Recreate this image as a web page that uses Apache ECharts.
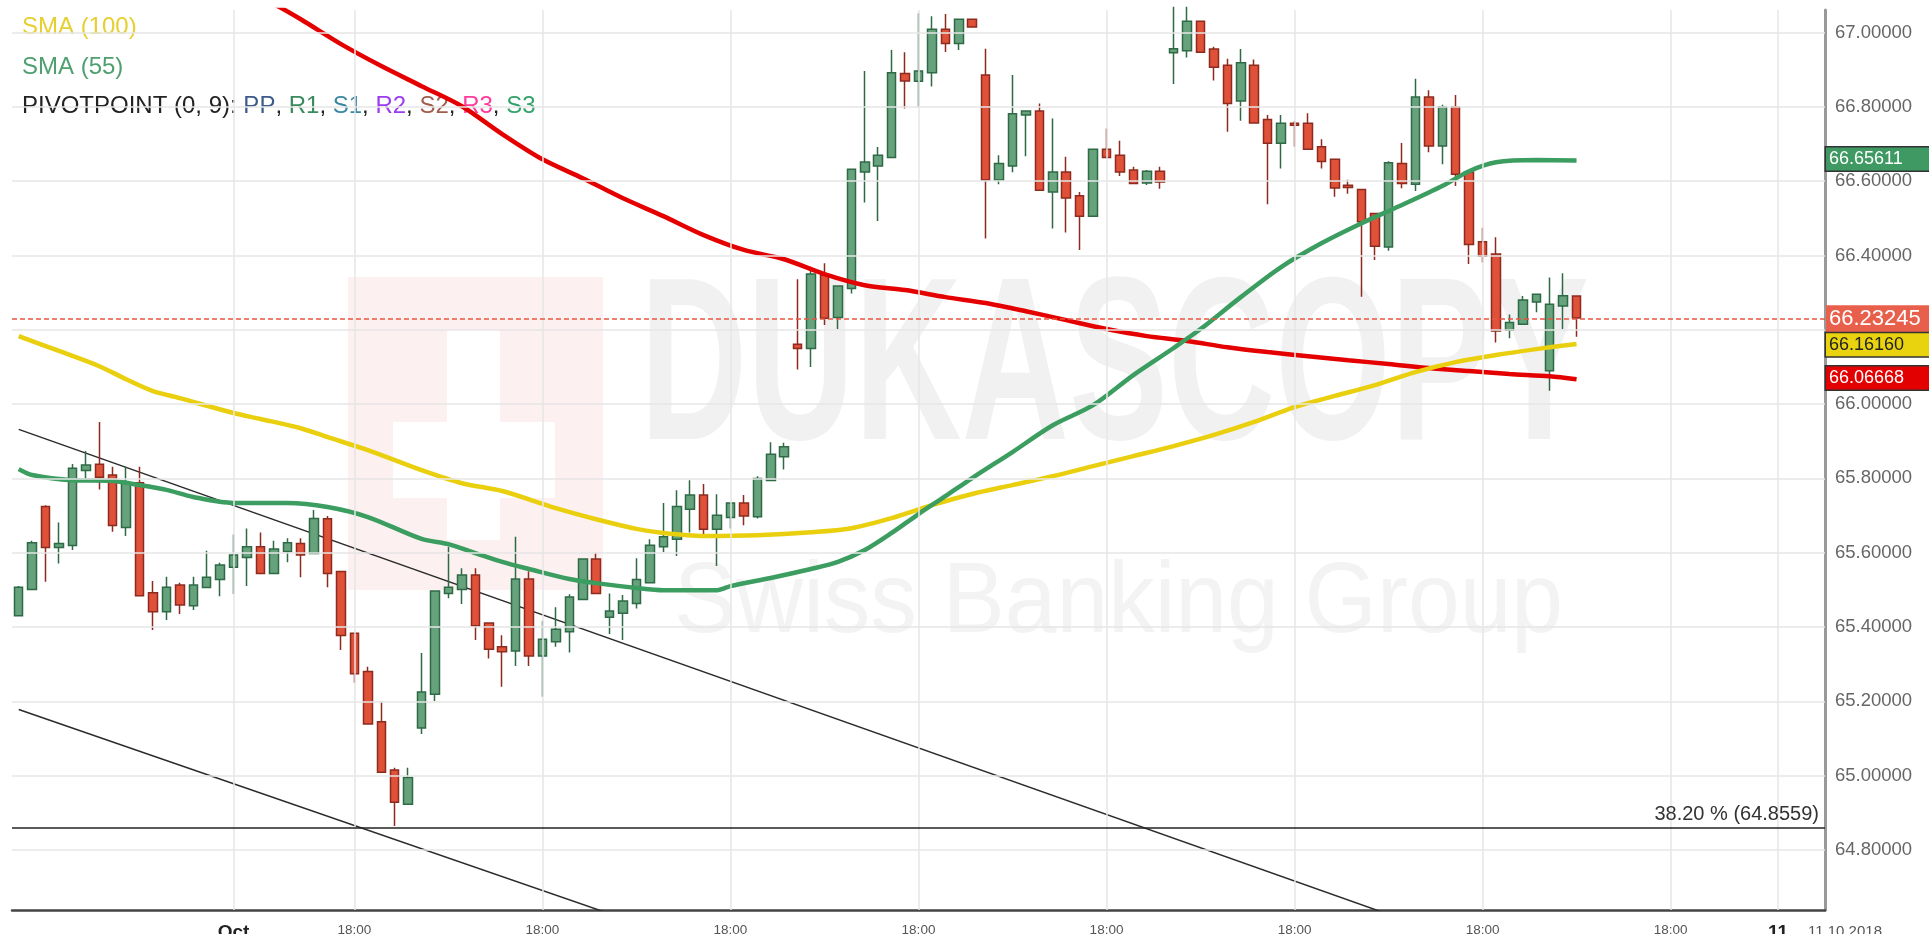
<!DOCTYPE html>
<html>
<head>
<meta charset="UTF-8">
<title>USD/RUB 1H</title>
<script src="https://cdn.jsdelivr.net/npm/echarts@6/dist/echarts.min.js"></script>
<style>
html, body { margin: 0; padding: 0; background: #fff; }
#chart { width: 1929px; height: 934px; }
</style>
</head>
<body>
<div id="chart"></div>
<script>
// hourly candles: [open, close, low, high]
var candles = [
    [65.430, 65.507, 65.430, 65.510], [65.501, 65.627, 65.500, 65.632], [65.724, 65.614, 65.522, 65.728],
    [65.614, 65.625, 65.571, 65.681], [65.619, 65.827, 65.607, 65.839], [65.821, 65.836, 65.796, 65.874],
    [65.838, 65.803, 65.770, 65.952], [65.809, 65.673, 65.656, 65.831], [65.668, 65.788, 65.645, 65.831],
    [65.788, 65.484, 65.484, 65.831], [65.492, 65.441, 65.392, 65.524], [65.441, 65.507, 65.419, 65.535],
    [65.513, 65.459, 65.435, 65.519], [65.457, 65.513, 65.446, 65.535], [65.506, 65.534, 65.505, 65.605],
    [65.528, 65.567, 65.483, 65.573], [65.561, 65.594, 65.489, 65.649], [65.587, 65.616, 65.510, 65.665],
    [65.616, 65.544, 65.544, 65.654], [65.544, 65.610, 65.544, 65.632], [65.603, 65.627, 65.574, 65.639],
    [65.625, 65.594, 65.534, 65.639], [65.598, 65.692, 65.598, 65.715], [65.691, 65.544, 65.507, 65.699],
    [65.549, 65.377, 65.338, 65.549], [65.383, 65.274, 65.250, 65.383], [65.280, 65.139, 65.139, 65.293],
    [65.145, 65.009, 65.009, 65.199], [65.015, 64.928, 64.864, 65.021], [64.923, 64.995, 64.923, 65.021],
    [65.128, 65.225, 65.112, 65.330], [65.219, 65.497, 65.201, 65.497], [65.490, 65.507, 65.477, 65.616],
    [65.501, 65.540, 65.462, 65.558], [65.540, 65.403, 65.365, 65.558], [65.411, 65.340, 65.315, 65.411],
    [65.347, 65.333, 65.239, 65.378], [65.335, 65.529, 65.295, 65.643], [65.529, 65.322, 65.295, 65.550],
    [65.322, 65.367, 65.212, 65.417], [65.360, 65.394, 65.347, 65.453], [65.387, 65.481, 65.331, 65.488],
    [65.474, 65.583, 65.474, 65.583], [65.583, 65.490, 65.490, 65.600], [65.426, 65.443, 65.381, 65.490],
    [65.437, 65.470, 65.365, 65.486], [65.463, 65.528, 65.450, 65.585], [65.519, 65.620, 65.519, 65.636],
    [65.616, 65.643, 65.602, 65.734], [65.636, 65.724, 65.591, 65.768], [65.717, 65.755, 65.654, 65.795],
    [65.755, 65.663, 65.650, 65.785], [65.663, 65.701, 65.564, 65.757], [65.695, 65.734, 65.665, 65.734],
    [65.734, 65.699, 65.674, 65.755], [65.697, 65.800, 65.692, 65.806], [65.794, 65.865, 65.794, 65.897],
    [65.858, 65.885, 65.824, 65.896], [66.161, 66.150, 66.093, 66.336], [66.150, 66.350, 66.100, 66.370],
    [66.347, 66.231, 66.213, 66.379], [66.233, 66.318, 66.202, 66.318], [66.311, 66.632, 66.298, 66.632],
    [66.625, 66.652, 66.543, 66.897], [66.641, 66.670, 66.493, 66.692], [66.664, 66.892, 66.664, 66.953],
    [66.890, 66.870, 66.796, 66.947], [66.869, 66.897, 66.799, 67.052], [66.892, 67.009, 66.855, 67.044],
    [67.009, 66.971, 66.948, 67.050], [66.971, 67.036, 66.953, 67.036], [67.036, 67.015, 67.015, 67.036],
    [66.886, 66.603, 66.446, 66.957], [66.603, 66.648, 66.592, 66.670], [66.641, 66.782, 66.624, 66.886],
    [66.778, 66.789, 66.667, 66.789], [66.789, 66.576, 66.576, 66.809], [66.571, 66.625, 66.473, 66.769],
    [66.625, 66.555, 66.462, 66.666], [66.561, 66.506, 66.415, 66.571], [66.506, 66.686, 66.506, 66.686],
    [66.686, 66.664, 66.664, 66.742], [66.670, 66.625, 66.614, 66.709], [66.630, 66.594, 66.594, 66.639],
    [66.595, 66.627, 66.590, 66.630], [66.627, 66.598, 66.580, 66.639], [66.946, 66.957, 66.862, 67.070],
    [66.951, 67.031, 66.933, 67.070], [67.031, 66.947, 66.945, 67.031], [66.956, 66.907, 66.871, 66.962],
    [66.912, 66.809, 66.733, 66.930], [66.816, 66.919, 66.763, 66.956], [66.912, 66.757, 66.755, 66.928],
    [66.766, 66.702, 66.538, 66.778], [66.702, 66.756, 66.634, 66.778], [66.756, 66.751, 66.693, 66.762],
    [66.756, 66.686, 66.686, 66.783], [66.693, 66.653, 66.634, 66.713], [66.659, 66.582, 66.558, 66.660],
    [66.589, 66.583, 66.566, 66.604], [66.578, 66.491, 66.289, 66.580], [66.513, 66.425, 66.388, 66.515],
    [66.423, 66.650, 66.413, 66.654], [66.648, 66.594, 66.581, 66.703], [66.592, 66.827, 66.574, 66.876],
    [66.827, 66.695, 66.678, 66.845], [66.695, 66.800, 66.646, 66.806], [66.800, 66.619, 66.587, 66.832],
    [66.625, 66.430, 66.377, 66.630], [66.437, 66.398, 66.381, 66.475], [66.404, 66.197, 66.166, 66.449],
    [66.199, 66.220, 66.177, 66.241], [66.215, 66.280, 66.215, 66.291], [66.275, 66.296, 66.247, 66.296],
    [66.090, 66.269, 66.036, 66.341], [66.264, 66.292, 66.202, 66.352], [66.291, 66.232, 66.181, 66.291]
];

// moving averages, [candle index, value] read at sample points
var sma55 = [
    [0, 65.825], [1, 65.809], [4, 65.795], [7, 65.793], [9, 65.782], [11, 65.769], [13, 65.750],
    [16, 65.734], [20, 65.734], [23, 65.723], [26, 65.696], [30, 65.637], [32, 65.623], [34, 65.599],
    [36, 65.575], [38, 65.556], [41, 65.529], [43, 65.518], [46, 65.505], [48, 65.499], [52, 65.499],
    [53, 65.510], [56, 65.532], [59, 65.556], [61, 65.575], [63, 65.607], [65, 65.653], [67, 65.704],
    [69, 65.752], [71, 65.801], [74, 65.871], [77, 65.943], [80, 65.997], [83, 66.078], [86, 66.151],
    [88, 66.202], [91, 66.288], [94, 66.369], [97, 66.433], [100, 66.487], [103, 66.536], [106, 66.587],
    [108, 66.627], [110, 66.651], [113, 66.657], [116, 66.656]
];
var sma100 = [
    [0, 66.183], [3, 66.143], [6, 66.102], [8, 66.067], [10, 66.035], [12, 66.016], [16, 65.976],
    [18, 65.960], [21, 65.935], [23, 65.911], [26, 65.876], [30, 65.822], [33, 65.787], [36, 65.766],
    [40, 65.720], [43, 65.690], [46, 65.664], [48, 65.653], [51, 65.645], [55, 65.647], [59, 65.655],
    [62, 65.666], [65, 65.693], [68, 65.728], [71, 65.758], [74, 65.782], [77, 65.806], [80, 65.833],
    [83, 65.860], [86, 65.887], [89, 65.917], [92, 65.952], [95, 65.992], [98, 66.022], [101, 66.051],
    [104, 66.086], [107, 66.113], [110, 66.132], [113, 66.148], [116, 66.162]
];
var smaRed = [
    [16, 67.128], [19, 67.077], [21, 67.036], [24, 66.969], [27, 66.910], [30, 66.856], [33, 66.802],
    [36, 66.727], [39, 66.659], [42, 66.608], [45, 66.554], [48, 66.506], [51, 66.455], [54, 66.415],
    [57, 66.390], [60, 66.350], [63, 66.320], [66, 66.307], [69, 66.288], [72, 66.272], [75, 66.250],
    [78, 66.226], [81, 66.202], [84, 66.183], [87, 66.170], [90, 66.153], [93, 66.140], [96, 66.129],
    [99, 66.118], [102, 66.108], [105, 66.097], [108, 66.089], [111, 66.081], [114, 66.075], [116, 66.067]
];

// drawn channel lines, two anchor points each
var trendUpper = [[0, 65.932], [110, 64.524]];
var trendLower = [[0, 65.178], [50, 64.553]];

var lastPrice = 66.23245;
var last55 = 66.65611;
var last100 = 66.16160;
var lastRed = 66.06668;
var fibLevel = 64.8559;
var fibText = '38.20 %';

var tickIdx = [16, 25, 39, 53, 67, 81, 95, 109, 123, 131];
var tickText = ['Oct', '18:00', '18:00', '18:00', '18:00', '18:00', '18:00', '18:00', '18:00', '11'];
var yTicks = [64.8, 65.0, 65.2, 65.4, 65.6, 65.8, 66.0, 66.2, 66.4, 66.6, 66.8, 67.0];
var nCats = 135;

var FONT = '"Liberation Sans", Arial, sans-serif';

var cats = [];
for (var i = 0; i < nCats; i++) cats.push(String(i));

var chart = echarts.init(document.getElementById('chart'));

// price tag sitting on the right axis
function tag(value, bg, fg, border, size) {
    return {
        show: true, position: 'end', distance: 1,
        formatter: value.toFixed(5),
        backgroundColor: bg, color: fg, fontFamily: FONT, fontSize: size,
        borderColor: border || 'transparent', borderWidth: border ? 1.5 : 0,
        padding: [3, 40, 2, 3]
    };
}

var hidden = { color: 'rgba(255,255,255,0)', width: 1 };

var option = {
    animation: false,
    backgroundColor: '#ffffff',
    grid: { left: 12, right: 104, top: 10, bottom: 24, containLabel: false, outerBoundsMode: 'none' },
    xAxis: {
        type: 'category',
        data: cats,
        boundaryGap: true,
        axisLine: { show: true, onZero: false, lineStyle: { color: '#444', width: 2.5 } },
        axisTick: { show: false },
        splitLine: { show: false },
        axisLabel: {
            margin: 13,
            color: '#555',
            fontFamily: FONT,
            fontSize: 13.5,
            interval: function (index) { return tickIdx.indexOf(index) >= 0; },
            formatter: function (v, index) {
                var k = tickIdx.indexOf(index);
                if (k < 0) return '';
                var t = tickText[k];
                return t.indexOf(':') < 0 ? '{b|' + t + '}' : t;
            },
            rich: { b: { fontSize: 19, fontWeight: 'bold', color: '#222', fontFamily: FONT } }
        }
    },
    yAxis: {
        type: 'value',
        position: 'right',
        min: 64.638,
        max: 67.061,
        splitNumber: 12,
        minInterval: 0.2,
        maxInterval: 0.2,
        axisLine: { show: true, lineStyle: { color: '#999', width: 3 } },
        axisTick: { show: false },
        splitLine: { show: false },
        axisLabel: {
            margin: 10,
            color: '#666',
            fontFamily: FONT,
            fontSize: 18.5,
            formatter: function (v) {
                return Math.abs(v * 5 - Math.round(v * 5)) < 1e-6 ? v.toFixed(5) : '';
            }
        }
    },
    graphic: [
        { type: 'rect', z: -10, shape: { x: 348, y: 277, width: 255, height: 313 }, style: { fill: '#fdf0f1' } },
        { type: 'rect', z: -9, shape: { x: 447, y: 330, width: 53, height: 210 }, style: { fill: '#ffffff' } },
        { type: 'rect', z: -9, shape: { x: 393, y: 422, width: 162, height: 76 }, style: { fill: '#ffffff' } },
        {
            type: 'text', z: -8, x: 640, y: 375, scaleX: 0.64,
            style: { text: 'DUKASCOPY', font: 'bold 232px ' + FONT, fill: '#f1f1f1', verticalAlign: 'middle', align: 'left' }
        },
        {
            type: 'text', z: -8, x: 674, y: 604, scaleX: 0.93,
            style: { text: 'Swiss Banking Group', font: '100px ' + FONT, fill: '#f3f3f3', verticalAlign: 'middle', align: 'left' }
        },
        {
            type: 'text', x: 22, y: 27,
            style: { text: 'SMA (100)', font: '24px ' + FONT, fill: '#e6cf2e', verticalAlign: 'middle' }
        },
        {
            type: 'text', x: 22, y: 67,
            style: { text: 'SMA (55)', font: '24px ' + FONT, fill: '#4f9f70', verticalAlign: 'middle' }
        },
        {
            type: 'text', x: 22, y: 106,
            style: {
                text: 'PIVOTPOINT (0, 9): {pp|PP}, {r1|R1}, {s1|S1}, {r2|R2}, {s2|S2}, {r3|R3}, {s3|S3}',
                font: '24px ' + FONT, fill: '#222', verticalAlign: 'middle',
                rich: {
                    pp: { fill: '#3d5a8c', font: '24px ' + FONT },
                    r1: { fill: '#3b8a5c', font: '24px ' + FONT },
                    s1: { fill: '#3a87a3', font: '24px ' + FONT },
                    r2: { fill: '#9b3cf0', font: '24px ' + FONT },
                    s2: { fill: '#a05d4b', font: '24px ' + FONT },
                    r3: { fill: '#ff3a9d', font: '24px ' + FONT },
                    s3: { fill: '#33a36a', font: '24px ' + FONT }
                }
            }
        },
        {
            type: 'text', x: 1845, y: 932,
            style: { text: '11.10.2018', font: '15px ' + FONT, fill: '#555', align: 'center', verticalAlign: 'middle' }
        }
    ],
    series: [
        {
            name: 'grid', type: 'line', data: [], z: 1, silent: true,
            markLine: {
                silent: true, symbol: ['none', 'none'], label: { show: false },
                lineStyle: { color: '#e6e6e6', width: 1.5, type: 'solid' },
                emphasis: { disabled: true },
                data: tickIdx.map(function (i) { return { xAxis: i }; })
                    .concat(yTicks.map(function (v) { return { yAxis: v }; }))
            }
        },
        {
            name: 'channel1', type: 'line', data: trendUpper, z: 2, symbol: 'none', silent: true,
            lineStyle: { color: '#2b2b2b', width: 1.5 }
        },
        {
            name: 'channel2', type: 'line', data: trendLower, z: 2, symbol: 'none', silent: true,
            lineStyle: { color: '#2b2b2b', width: 1.5 }
        },
        {
            name: 'fib', type: 'line', data: [], z: 2, silent: true,
            markLine: {
                silent: true, symbol: ['none', 'none'],
                lineStyle: { color: '#222', width: 1.5, type: 'solid' },
                emphasis: { disabled: true },
                data: [{ yAxis: fibLevel }],
                label: {
                    show: true, position: 'insideEndTop', distance: [6, 3],
                    formatter: fibText + ' (' + fibLevel + ')',
                    color: '#333', fontFamily: FONT, fontSize: 20
                }
            }
        },
        {
            name: 'USD/RUB', type: 'candlestick', data: candles, z: 3, barWidth: 9,
            itemStyle: {
                color: '#66a37c', color0: '#df5139',
                borderColor: '#2e6a45', borderColor0: '#8c2b1e', borderWidth: 1.5
            },
            markLine: {
                silent: true, symbol: ['none', 'none'],
                lineStyle: { color: '#e9553f', width: 1.5, type: [5, 3] },
                emphasis: { disabled: true },
                data: [{ yAxis: lastPrice }],
                label: tag(lastPrice, '#e8604c', '#fff', null, 22)
            }
        },
        {
            name: 'SMA (200)', type: 'line', data: smaRed, z: 4, symbol: 'none', smooth: 0.3, silent: true,
            lineStyle: { color: '#e50000', width: 4.5 },
            markLine: {
                silent: true, symbol: ['none', 'none'], lineStyle: hidden,
                emphasis: { disabled: true },
                data: [{ yAxis: lastRed }], label: tag(lastRed, '#e20000', '#fff', '#333', 18)
            }
        },
        {
            name: 'SMA (100)', type: 'line', data: sma100, z: 4, symbol: 'none', smooth: 0.3, silent: true,
            lineStyle: { color: '#e9cf0e', width: 4.5 },
            markLine: {
                silent: true, symbol: ['none', 'none'], lineStyle: hidden,
                emphasis: { disabled: true },
                data: [{ yAxis: last100 }], label: tag(last100, '#e9d30f', '#222', '#333', 18)
            }
        },
        {
            name: 'SMA (55)', type: 'line', data: sma55, z: 4, symbol: 'none', smooth: 0.3, silent: true,
            lineStyle: { color: '#3b9d5f', width: 4.5 },
            markLine: {
                silent: true, symbol: ['none', 'none'], lineStyle: hidden,
                emphasis: { disabled: true },
                data: [{ yAxis: last55 }], label: tag(last55, '#3e9a62', '#fff', '#333', 18)
            }
        }
    ]
};

chart.setOption(option);
</script>
</body>
</html>
